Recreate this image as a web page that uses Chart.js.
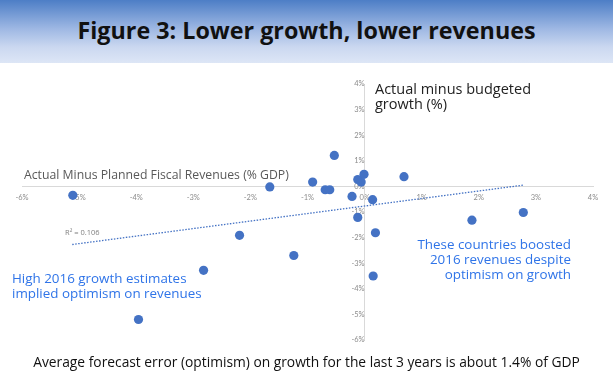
<!DOCTYPE html>
<html>
<head>
<meta charset="utf-8">
<script src="https://cdn.jsdelivr.net/npm/chart.js@4/dist/chart.umd.min.js"></script>
<style>
  body { margin: 0; background: #fff; }
  #wrap { position: relative; width: 613px; height: 375px; overflow: hidden; font-family: "Open Sans", Lato, sans-serif; }
  #banner {
    position: absolute; left: 0; top: 0; width: 613px; height: 63px;
    background: linear-gradient(to bottom, #4d7ec6 0%, #9db7e3 45%, #cbd8f0 75%, #dde6f6 100%);
  }
  #banner h1 {
    margin: 0; position: absolute; left: 0; right: 0; top: 15px;
    text-align: center; font-size: 23.3px; font-weight: 700; color: #111; line-height: 30px;
  }
  canvas { position: absolute; left: 0; top: 0; }
  .note { position: absolute; white-space: nowrap; line-height: 15px; }
  .blue { color: #2f74e8; font-size: 13.4px; }
</style>
</head>
<body>
<div id="wrap">
  <canvas id="scatterChart" width="613" height="375"></canvas>
  <div id="banner"><h1>Figure 3: Lower growth, lower revenues</h1></div>
  <div class="note" style="left:24px; top:167px; font-size:12.25px; color:#595959;">Actual Minus Planned Fiscal Revenues (% GDP)</div>
  <div class="note" style="left:375px; top:82px; font-size:14.5px; line-height:14.5px; color:#222;">Actual minus budgeted<br>growth (%)</div>
  <div class="note" style="left:65px; top:227px; font-size:7.5px; line-height:10px; color:#7f7f7f;">R² = 0.106</div>
  <div class="note blue" style="right:42px; top:237px; text-align:right;">These countries boosted<br>2016 revenues despite<br>optimism on growth</div>
  <div class="note blue" style="left:12px; top:271px;">High 2016 growth estimates<br>implied optimism on revenues</div>
  <div class="note" style="left:0; width:613px; top:354px; text-align:center; font-size:13.8px; color:#111;">Average forecast error (optimism) on growth for the last 3 years is about 1.4% of GDP</div>
</div>
<script>
// revenue error (x, % GDP) vs growth error (y, %)
const revenueErr = [-5.11, -3.96, -2.82, -2.19, -1.66, -1.24, -0.91, -0.69, -0.61, -0.53, -0.22, -0.12, -0.06, -0.01, -0.12, 0.14, 0.19, 0.15, 0.69, 1.88, 2.78];
const growthErr  = [-0.35, -5.20, -3.28, -1.91, -0.02, -2.70, 0.17, -0.13, -0.13, 1.21, -0.39, 0.27, 0.17, 0.47, -1.21, -0.52, -1.81, -3.50, 0.38, -1.32, -1.02];

// linear trendline endpoints
const trendX = [-5.12, 2.78];
const trendY = [-2.27, 0.05];

const tickMin = -6;
const tickMax = 4;

const points = revenueErr.map((x, i) => ({ x: x, y: growthErr[i] }));
const trend = trendX.map((x, i) => ({ x: x, y: trendY[i] }));

const pct = v => v + '%';

new Chart(document.getElementById('scatterChart').getContext('2d'), {
  type: 'scatter',
  data: {
    datasets: [
      {
        label: 'Countries',
        data: points,
        backgroundColor: '#4472c4',
        borderWidth: 0,
        pointRadius: 4.6,
        order: 1
      },
      {
        type: 'line',
        label: 'Trend',
        data: trend,
        borderColor: '#4472c4',
        borderWidth: 1.3,
        borderDash: [1.5, 1.5],
        pointRadius: 0,
        fill: false,
        order: 2
      }
    ]
  },
  options: {
    responsive: false,
    animation: false,
    layout: { padding: { left: 22, right: 20, top: 84, bottom: 35 } },
    plugins: { legend: { display: false }, tooltip: { enabled: false } },
    scales: {
      x: {
        type: 'linear',
        position: { y: 0 },
        min: tickMin, max: tickMax,
        grid: { display: false, drawTicks: false },
        border: { display: true, color: '#d9d9d9', width: 1 },
        ticks: { stepSize: 1, padding: 7, color: '#8c8c8c', font: { size: 7.5, family: 'Lato' }, callback: pct, maxRotation: 0 }
      },
      y: {
        type: 'linear',
        position: { x: 0 },
        min: tickMin, max: tickMax,
        grid: { display: false, drawTicks: false },
        border: { display: true, color: '#d9d9d9', width: 1 },
        ticks: { stepSize: 1, padding: 10, color: '#8c8c8c', font: { size: 7.5, family: 'Lato' }, callback: pct }
      }
    }
  }
});
</script>
</body>
</html>
